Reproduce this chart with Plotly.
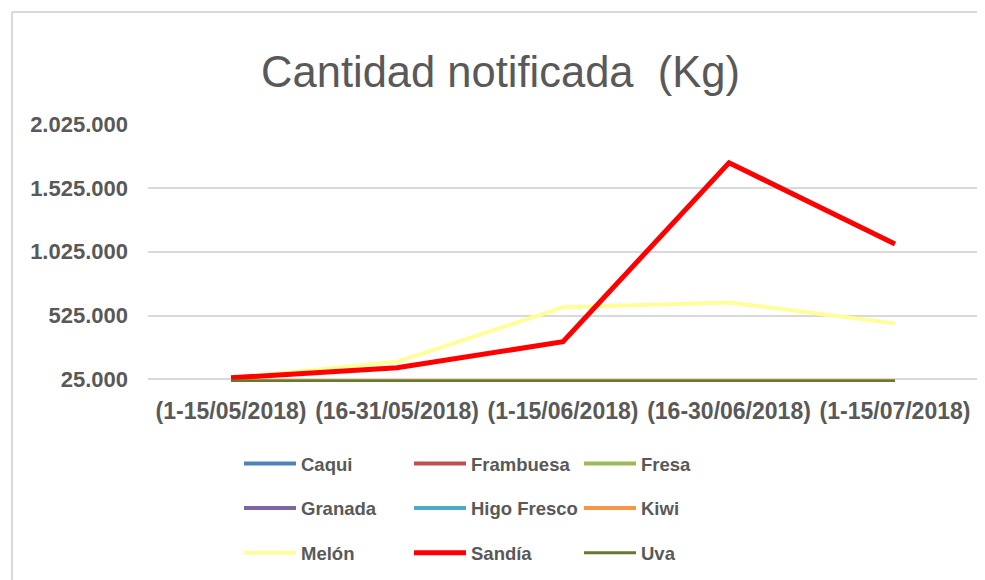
import plotly.graph_objects as go

categories = ["(1-15/05/2018)", "(16-31/05/2018)", "(1-15/06/2018)", "(16-30/06/2018)", "(1-15/07/2018)"]

caqui = [12000, 12000, 12000, 12000, 12000]
frambuesa = [12000, 12000, 12000, 12000, 12000]
fresa = [12000, 12000, 12000, 12000, 12000]
granada = [12000, 12000, 12000, 12000, 12000]
higo_fresco = [12000, 12000, 12000, 12000, 12000]
kiwi = [12000, 12000, 12000, 12000, 12000]
melon = [36000, 163000, 590000, 628000, 464000]
sandia = [38000, 116000, 320000, 1722000, 1085000]
uva = [12000, 12000, 12000, 12000, 12000]

tick_vals = [25000, 525000, 1025000, 1525000, 2025000]
tick_text = ["25.000", "525.000", "1.025.000", "1.525.000", "2.025.000"]

series = [
    ("Caqui", caqui, "#4F81BD", 4, "legend"),
    ("Frambuesa", frambuesa, "#C0504D", 4, "legend2"),
    ("Fresa", fresa, "#9BBB59", 4, "legend3"),
    ("Granada", granada, "#8064A2", 4, "legend"),
    ("Higo Fresco", higo_fresco, "#4BACC6", 4, "legend2"),
    ("Kiwi", kiwi, "#F79646", 4, "legend3"),
    ("Melón", melon, "#FFFF99", 4, "legend"),
    ("Sandía", sandia, "#FF0000", 5, "legend2"),
    ("Uva", uva, "#637A30", 3, "legend3"),
]

fig = go.Figure()
for name, vals, color, w, lg in series:
    fig.add_trace(go.Scatter(
        x=categories, y=vals, name=name, mode="lines",
        line=dict(color=color, width=w),
        legend=lg, legendgroup=name,
    ))

# figure coordinates (page has an 8px body margin)
W, H = 985, 580
ml, mr, mt, mb = 140, 15, 116, 206
pw = W - ml - mr
ph = H - mt - mb

def px_x(p):
    return (p - ml) / pw

def px_y(p):
    return (H - mb - p) / ph

txt = "#595959"
font_family = "Liberation Sans, Arial, sans-serif"

legend_common = dict(
    orientation="v", xref="container", yref="container",
    yanchor="top", xanchor="left",
    font=dict(family=font_family, size=18.5, color=txt, weight="bold"),
    tracegroupgap=17.5, bgcolor="rgba(0,0,0,0)", itemclick=False,
    itemwidth=52,
)

legend_top = 1 - 437 / H

fig.update_layout(
    width=W, height=H,
    margin=dict(l=ml, r=mr, t=mt, b=mb, autoexpand=False),
    paper_bgcolor="white", plot_bgcolor="white",
    title=dict(
        text="Cantidad notificada&nbsp;&nbsp;(Kg)",
        x=0.5, xref="container", xanchor="center",
        y=1 - 64 / H, yref="container", yanchor="middle",
        font=dict(family=font_family, size=43.5, color=txt),
    ),
    xaxis=dict(
        type="category", range=[-0.5, 4.5],
        showgrid=False, showline=False, zeroline=False,
        tickfont=dict(family=font_family, size=23, color=txt, weight="bold"),
        ticks="", ticklabelstandoff=13, automargin=False,
    ),
    yaxis=dict(
        range=[5000, 2025000],
        tickvals=tick_vals, ticktext=tick_text,
        showgrid=True, gridcolor="#D9D9D9", gridwidth=2,
        showline=False, zeroline=False,
        tickfont=dict(family=font_family, size=22, color=txt, weight="bold"),
        ticks="", ticklabelstandoff=19, automargin=False,
    ),
    legend=dict(x=231 / W, y=legend_top, **legend_common),
    legend2=dict(x=401 / W, y=legend_top, **legend_common),
    legend3=dict(x=571 / W, y=legend_top, **legend_common),
    showlegend=True,
)

# outer chart border (only top and left edges visible in frame)
fig.add_shape(type="line", xref="paper", yref="paper",
              x0=px_x(4), x1=px_x(1000), y0=px_y(4), y1=px_y(4),
              line=dict(color="#D9D9D9", width=2), layer="below")
fig.add_shape(type="line", xref="paper", yref="paper",
              x0=px_x(4), x1=px_x(4), y0=px_y(4), y1=px_y(600),
              line=dict(color="#D9D9D9", width=2), layer="below")

fig.write_html("out.html")
